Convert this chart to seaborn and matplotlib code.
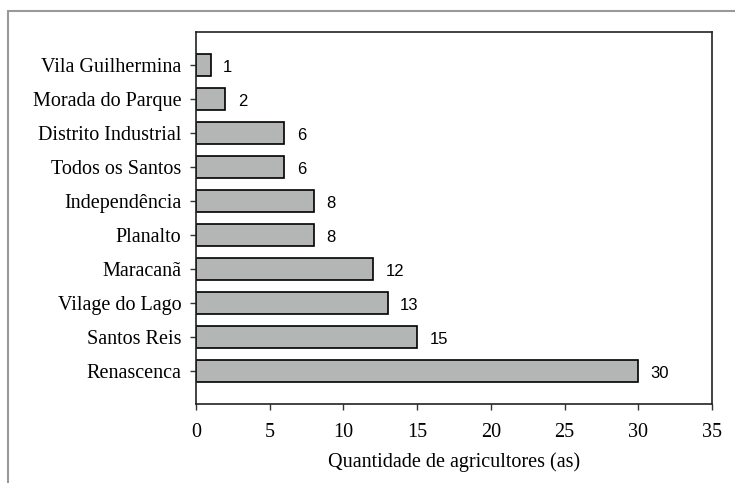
import matplotlib
matplotlib.use("Agg")
import matplotlib.pyplot as plt
import seaborn as sns
import pandas as pd
from matplotlib.lines import Line2D

bairros = ["Vila Guilhermina", "Morada do Parque", "Distrito Industrial", "Todos os Santos",
           "Independência", "Planalto", "Maracanã", "Vilage do Lago", "Santos Reis", "Renascenca"]
agricultores = [1, 2, 6, 6, 8, 8, 12, 13, 15, 30]
x_ticks = [0, 5, 10, 15, 20, 25, 30, 35]
x_label = "Quantidade de agricultores (as)"

df = pd.DataFrame({"bairro": bairros, "n": agricultores})

sns.set_theme(style="white")
plt.rcParams["font.family"] = ["Liberation Serif", "DejaVu Serif"]

fig = plt.figure(figsize=(7.35, 4.83), dpi=100)
ax = fig.add_axes([196/735, 1-404/483, (712-196)/735, (404-32)/483])

sns.barplot(data=df, x="n", y="bairro", orient="h", color="#b4b6b6", saturation=1,
            edgecolor="black", linewidth=1.2, width=0.62, ax=ax)

for i, v in enumerate(agricultores):
    ax.annotate(str(v), xy=(v, i), xytext=(9, -1.5), textcoords="offset points",
                ha="left", va="center", fontsize=12, family=["Liberation Sans", "DejaVu Sans"],
                color="black")

ax.set_xlim(0, 35)
ax.set_ylim(9.97, -0.97)
ax.set_xticks(x_ticks)
ax.set_xticklabels([str(t) for t in x_ticks])
ax.set_xlabel(x_label, fontsize=14.5, labelpad=7, color="black")
ax.set_ylabel("")
ax.tick_params(axis="both", which="both", direction="out", length=4.5, width=1,
               color="#333333", labelsize=14.5, labelcolor="black")
ax.tick_params(axis="x", pad=9.5)
ax.tick_params(axis="y", pad=6)
ax.tick_params(bottom=True, left=True, top=False, right=False)
for s in ax.spines.values():
    s.set_visible(True)
    s.set_color("#222222")
    s.set_linewidth(1.2)

# outer frame (partial, as in reference)
fig.add_artist(Line2D([8/735, 8/735], [0, 1-11/483], transform=fig.transFigure, color="#999999", lw=1.5))
fig.add_artist(Line2D([8/735, 1], [1-11/483, 1-11/483], transform=fig.transFigure, color="#999999", lw=1.5))

fig.savefig("out.png", dpi=100, facecolor="white")
